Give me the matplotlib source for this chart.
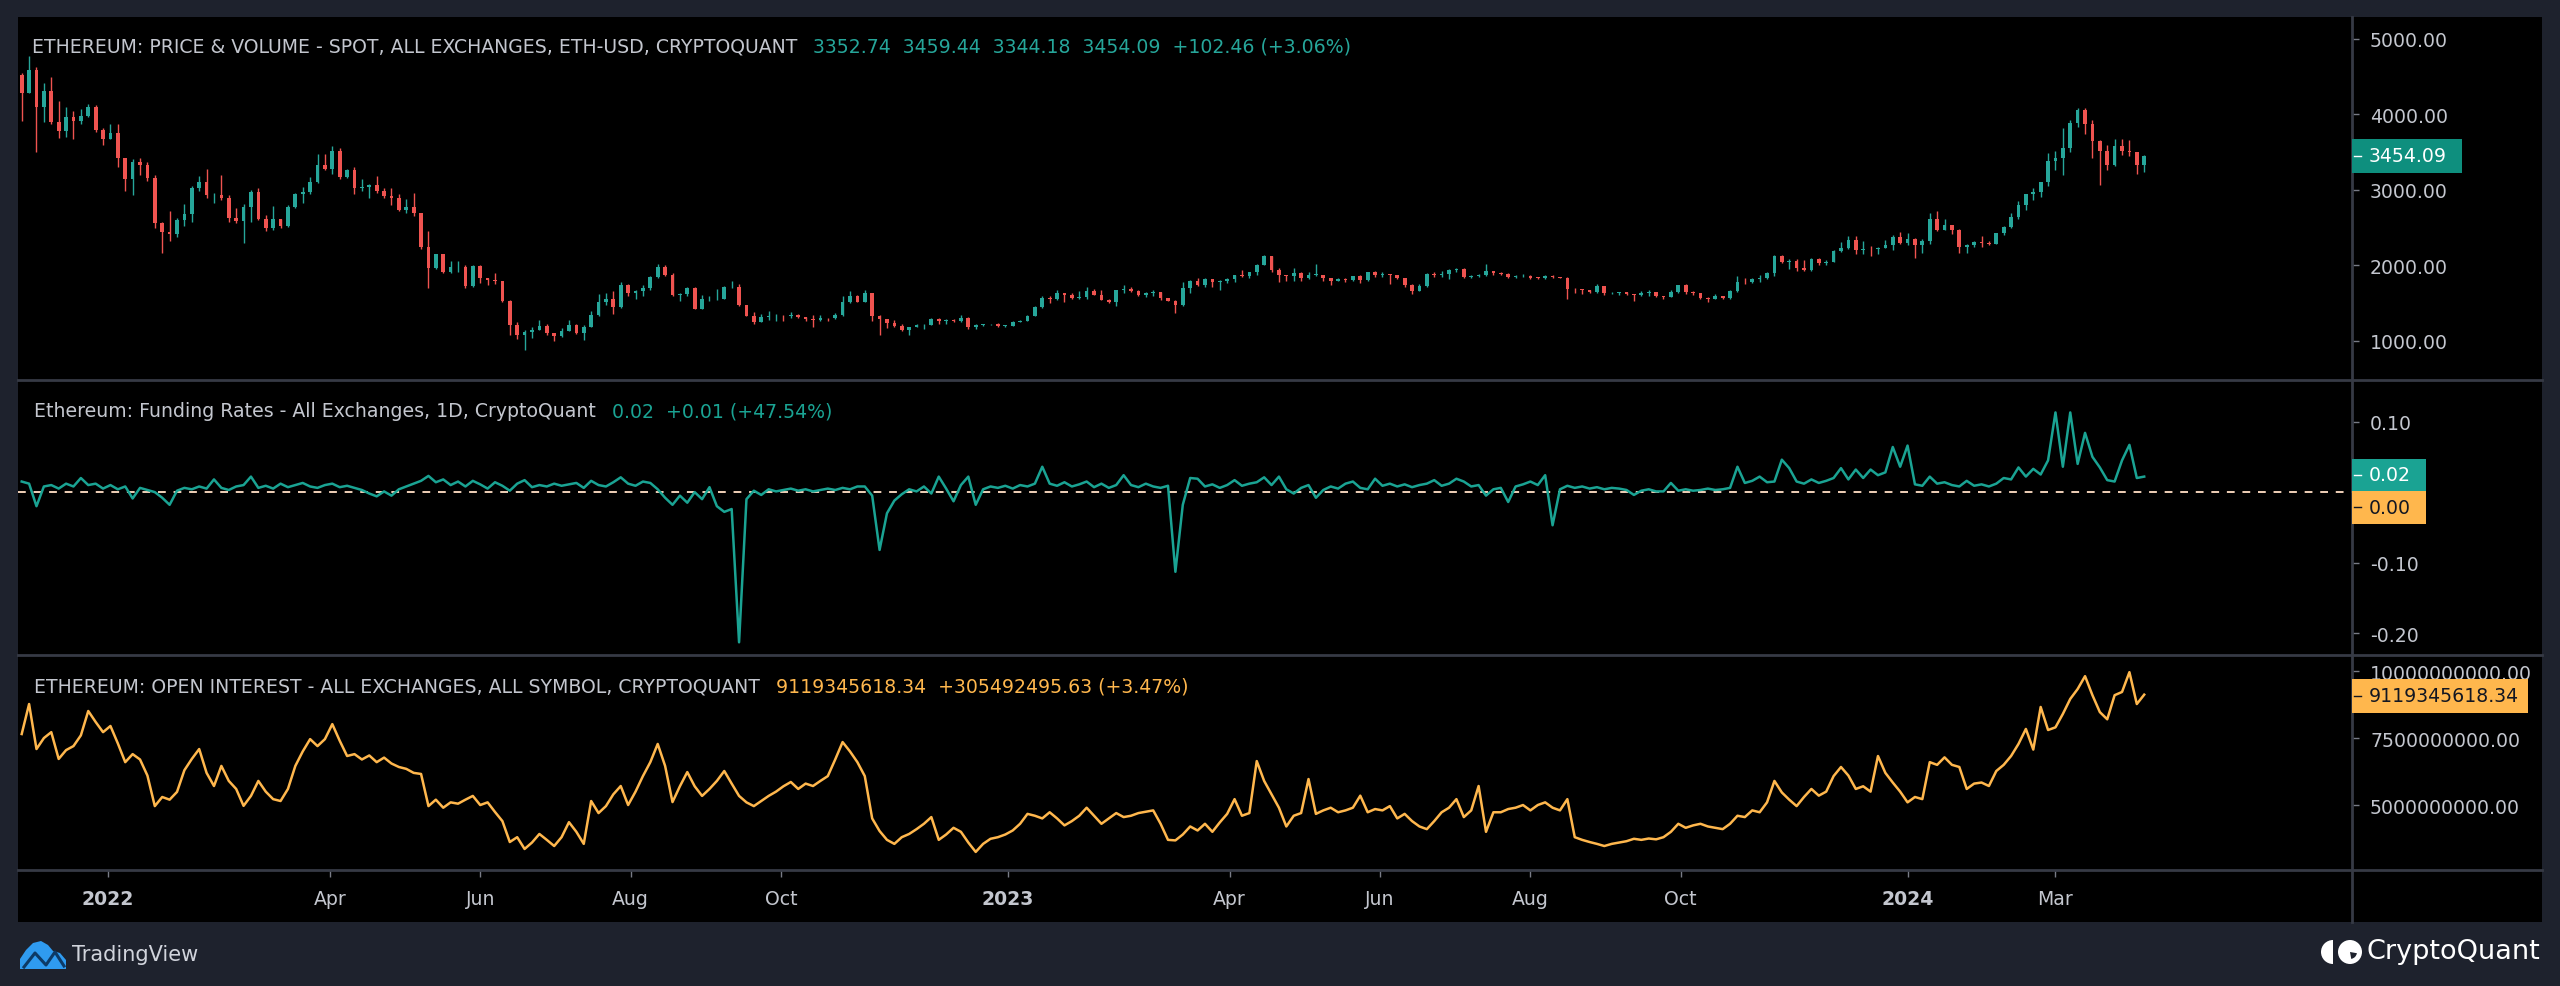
import numpy as np
import pandas as pd
import matplotlib
matplotlib.use("Agg")
import matplotlib.pyplot as plt
import matplotlib.dates as mdates
from matplotlib.patches import Rectangle, Polygon, Wedge, Circle
from matplotlib.lines import Line2D
from matplotlib.ticker import FuncFormatter
from matplotlib.transforms import IdentityTransform

# ---------------- data (3-day periods, first period 2021-11-26..28) ----------------
first_center = "2021-11-27"
n_periods = 288
first_open = 4520

close = [4290, 4590, 4100, 4310, 3900, 3780, 3960, 3920, 3980, 4100,
         3800, 3680, 3760, 3420, 3150, 3370, 3330, 3160, 2560, 2440,
         2420, 2600, 2680, 3020, 3110, 2930, 2930, 2890, 2630, 2590,
         2770, 2970, 2620, 2500, 2610, 2520, 2770, 2950, 2970, 3100,
         3330, 3280, 3520, 3170, 3260, 3030, 3040, 3060, 2990, 2920,
         2890, 2730, 2780, 2700, 2240, 1960, 2150, 1910, 1975, 1980,
         1725, 1995, 1830, 1805, 1790, 1530, 1210, 1085, 1125, 1145,
         1200, 1100, 1065, 1135, 1215, 1100, 1190, 1340, 1520, 1550,
         1450, 1735, 1635, 1660, 1700, 1850, 1985, 1880, 1615, 1625,
         1700, 1425, 1555, 1555, 1560, 1715, 1715, 1475, 1335, 1250,
         1315, 1330, 1330, 1325, 1350, 1315, 1295, 1275, 1310, 1300,
         1345, 1515, 1590, 1520, 1630, 1335, 1285, 1240, 1200, 1140,
         1185, 1210, 1215, 1295, 1260, 1280, 1265, 1310, 1185, 1215,
         1220, 1225, 1200, 1200, 1255, 1265, 1335, 1450, 1575, 1550,
         1630, 1610, 1570, 1585, 1665, 1615, 1545, 1515, 1675, 1690,
         1660, 1610, 1635, 1645, 1565, 1535, 1480, 1705, 1795, 1735,
         1820, 1775, 1795, 1825, 1870, 1865, 1910, 2010, 2120, 1940,
         1870, 1865, 1895, 1830, 1875, 1875, 1840, 1800, 1825, 1810,
         1855, 1805, 1910, 1870, 1890, 1880, 1840, 1740, 1665, 1725,
         1890, 1875, 1890, 1935, 1955, 1850, 1860, 1870, 1925, 1895,
         1890, 1850, 1860, 1865, 1840, 1835, 1855, 1845, 1840, 1690,
         1685, 1680, 1645, 1730, 1630, 1630, 1645, 1620, 1605, 1635,
         1645, 1595, 1585, 1655, 1735, 1645, 1630, 1565, 1550, 1600,
         1565, 1665, 1785, 1780, 1815, 1830, 1900, 2120, 2045, 2060,
         1960, 1935, 2080, 2030, 2050, 2195, 2230, 2340, 2200, 2220,
         2215, 2235, 2265, 2380, 2295, 2355, 2265, 2330, 2615, 2470,
         2530, 2470, 2240, 2265, 2315, 2300, 2290, 2425, 2505, 2640,
         2805, 2945, 2970, 3110, 3385, 3420, 3550, 3885, 4065, 3880,
         3645, 3515, 3335, 3585, 3510, 3505, 3330, 3454]

high = [4550, 4780, 4630, 4420, 4490, 4180, 4100, 4040, 4070, 4140,
        4130, 3820, 3880, 3880, 3420, 3410, 3420, 3370, 3200, 2580,
        2720, 2630, 2820, 3050, 3180, 3280, 2960, 3200, 2930, 2760,
        2820, 3000, 3030, 2670, 2790, 2620, 2800, 2960, 3040, 3170,
        3480, 3480, 3580, 3550, 3280, 3300, 3140, 3080, 3190, 3020,
        3030, 2950, 2880, 2960, 2700, 2450, 2150, 2140, 2060, 2060,
        2010, 2010, 2000, 1840, 1900, 1800, 1540, 1250, 1150, 1180,
        1280, 1230, 1110, 1170, 1280, 1230, 1210, 1400, 1620, 1640,
        1660, 1780, 1760, 1680, 1740, 1860, 2020, 2010, 1900, 1640,
        1720, 1710, 1610, 1600, 1690, 1730, 1790, 1760, 1480, 1390,
        1360, 1400, 1360, 1340, 1390, 1360, 1320, 1340, 1340, 1310,
        1370, 1590, 1660, 1610, 1680, 1640, 1340, 1290, 1280, 1230,
        1190, 1230, 1230, 1310, 1300, 1290, 1290, 1350, 1320, 1225,
        1225, 1230, 1235, 1205, 1270, 1275, 1350, 1460, 1600, 1600,
        1680, 1640, 1630, 1660, 1715, 1690, 1680, 1550, 1680, 1740,
        1720, 1670, 1650, 1670, 1650, 1575, 1545, 1780, 1805, 1830,
        1840, 1820, 1810, 1840, 1880, 1940, 1920, 2020, 2140, 2120,
        1960, 1880, 1960, 1920, 1920, 2020, 1880, 1840, 1840, 1830,
        1860, 1880, 1920, 1930, 1910, 1890, 1880, 1840, 1760, 1760,
        1900, 1910, 1930, 1950, 1970, 1960, 1880, 1890, 2020, 1930,
        1910, 1900, 1880, 1890, 1870, 1850, 1870, 1870, 1850, 1850,
        1700, 1690, 1680, 1750, 1730, 1650, 1650, 1650, 1625, 1660,
        1680, 1650, 1600, 1670, 1740, 1750, 1660, 1640, 1580, 1620,
        1600, 1670, 1860, 1830, 1830, 1870, 1910, 2140, 2140, 2080,
        2090, 2070, 2100, 2100, 2070, 2210, 2310, 2390, 2390, 2330,
        2260, 2250, 2340, 2400, 2440, 2430, 2370, 2350, 2690, 2720,
        2610, 2540, 2480, 2280, 2330, 2390, 2320, 2430, 2520, 2690,
        2860, 2950, 3030, 3110, 3490, 3520, 3820, 3930, 4090, 4090,
        3930, 3660, 3590, 3680, 3670, 3660, 3500, 3460]

low = [3920, 4280, 3500, 3900, 3880, 3690, 3700, 3680, 3880, 3960,
       3770, 3600, 3670, 3310, 2990, 2930, 3200, 3120, 2500, 2160,
       2330, 2380, 2520, 2580, 2980, 2900, 2830, 2870, 2580, 2560,
       2300, 2570, 2600, 2450, 2470, 2500, 2510, 2760, 2830, 2950,
       3090, 3270, 3210, 3150, 3160, 2950, 2990, 2900, 2960, 2900,
       2800, 2720, 2700, 2660, 2220, 1700, 1950, 1900, 1900, 1920,
       1700, 1720, 1770, 1740, 1760, 1510, 1080, 1030, 880, 1040,
       1180, 1080, 1000, 1050, 1130, 1090, 1010, 1180, 1330, 1480,
       1360, 1440, 1600, 1560, 1600, 1680, 1840, 1860, 1600, 1530,
       1600, 1420, 1420, 1530, 1545, 1560, 1700, 1460, 1330, 1220,
       1250, 1280, 1260, 1270, 1310, 1300, 1270, 1190, 1270, 1270,
       1295, 1335, 1500, 1510, 1510, 1260, 1075, 1170, 1190, 1130,
       1075, 1180, 1160, 1210, 1230, 1220, 1255, 1250, 1160, 1160,
       1200, 1215, 1185, 1190, 1195, 1245, 1260, 1325, 1440, 1500,
       1540, 1520, 1560, 1550, 1560, 1610, 1540, 1500, 1460, 1640,
       1650, 1590, 1580, 1600, 1540, 1530, 1370, 1460, 1640, 1730,
       1720, 1720, 1680, 1770, 1780, 1850, 1840, 1880, 2000, 1920,
       1780, 1790, 1790, 1800, 1820, 1860, 1800, 1740, 1790, 1780,
       1800, 1770, 1800, 1850, 1850, 1760, 1820, 1720, 1625, 1660,
       1715, 1850, 1850, 1820, 1910, 1840, 1840, 1850, 1860, 1880,
       1880, 1840, 1840, 1850, 1820, 1820, 1820, 1840, 1835, 1550,
       1640, 1620, 1640, 1640, 1610, 1620, 1610, 1610, 1530, 1600,
       1600, 1580, 1560, 1580, 1640, 1620, 1610, 1550, 1520, 1550,
       1550, 1560, 1650, 1760, 1770, 1780, 1820, 1860, 2030, 1950,
       1930, 1930, 1930, 2010, 2000, 2040, 2180, 2220, 2150, 2150,
       2120, 2150, 2250, 2210, 2280, 2270, 2100, 2170, 2280, 2460,
       2470, 2420, 2170, 2170, 2250, 2240, 2270, 2280, 2410, 2490,
       2620, 2740, 2870, 2910, 3050, 3270, 3200, 3500, 3830, 3740,
       3420, 3060, 3260, 3320, 3460, 3450, 3210, 3240]

funding = [0.015, 0.012, -0.02, 0.008, 0.01, 0.005, 0.012, 0.008, 0.02, 0.01,
           0.012, 0.005, 0.01, 0.004, 0.008, -0.009, 0.006, 0.003, 0.0, -0.008,
           -0.018, 0.002, 0.006, 0.004, 0.008, 0.005, 0.018, 0.006, 0.003, 0.008,
           0.01, 0.022, 0.006, 0.009, 0.005, 0.012, 0.007, 0.01, 0.013, 0.008,
           0.006, 0.01, 0.012, 0.007, 0.009, 0.006, 0.003, -0.002, -0.006, 0.001,
           -0.005, 0.004, 0.008, 0.012, 0.016, 0.023, 0.014, 0.018, 0.01, 0.015,
           0.008, 0.016, 0.011, 0.005, 0.014, 0.009, 0.002, 0.012, 0.017, 0.007,
           0.01, 0.008, 0.012, 0.009, 0.011, 0.013, 0.006, 0.016, 0.01, 0.008,
           0.014, 0.021, 0.012, 0.009, 0.015, 0.013, 0.004, -0.008, -0.018, -0.005,
           -0.015, 0.0, -0.01, 0.007, -0.02, -0.028, -0.024, -0.213, -0.01, 0.002,
           -0.004, 0.004, 0.001, 0.003, 0.005, 0.002, 0.004, 0.001, 0.003, 0.005,
           0.003, 0.006, 0.004, 0.008, 0.008, -0.005, -0.082, -0.03, -0.012, -0.003,
           0.004, 0.001, 0.008, -0.002, 0.022, 0.005, -0.013, 0.01, 0.022, -0.018,
           0.004, 0.008, 0.006, 0.009, 0.005, 0.01, 0.008, 0.012, 0.036, 0.012,
           0.009, 0.014, 0.008, 0.011, 0.015, 0.007, 0.012, 0.006, 0.01, 0.024,
           0.01, 0.007, 0.012, 0.008, 0.006, 0.009, -0.113, -0.018, 0.02, 0.019,
           0.008, 0.011, 0.006, 0.01, 0.017, 0.009, 0.012, 0.014, 0.021, 0.01,
           0.022, 0.004, -0.002, 0.006, 0.01, -0.008, 0.003, 0.008, 0.005, 0.012,
           0.015, 0.006, 0.004, 0.019, 0.009, 0.012, 0.008, 0.011, 0.007, 0.01,
           0.012, 0.017, 0.009, 0.012, 0.019, 0.015, 0.008, 0.01, -0.005, 0.004,
           0.006, -0.014, 0.008, 0.011, 0.015, 0.01, 0.024, -0.047, 0.004, 0.009,
           0.006, 0.008, 0.005, 0.007, 0.004, 0.006, 0.005, 0.003, -0.004, 0.002,
           0.004, 0.001, 0.001, 0.013, 0.002, 0.004, 0.002, 0.003, 0.005, 0.003,
           0.004, 0.006, 0.036, 0.013, 0.016, 0.022, 0.014, 0.015, 0.046, 0.034,
           0.015, 0.012, 0.018, 0.013, 0.016, 0.02, 0.034, 0.018, 0.032, 0.02,
           0.032, 0.024, 0.028, 0.064, 0.036, 0.066, 0.011, 0.009, 0.022, 0.012,
           0.014, 0.01, 0.008, 0.016, 0.009, 0.011, 0.008, 0.012, 0.02, 0.018,
           0.035, 0.022, 0.033, 0.025, 0.045, 0.113, 0.036, 0.113, 0.04, 0.084,
           0.05, 0.035, 0.017, 0.015, 0.045, 0.067, 0.02, 0.022]

oi_bn = [7.65, 8.77, 7.09, 7.5, 7.72, 6.72, 7.05, 7.2, 7.6, 8.51,
         8.1, 7.72, 7.95, 7.3, 6.6, 6.9, 6.7, 6.1, 4.96, 5.3,
         5.2, 5.49, 6.3, 6.72, 7.09, 6.2, 5.71, 6.46, 5.9, 5.6,
         4.97, 5.34, 5.9, 5.5, 5.22, 5.15, 5.6, 6.46, 7.0, 7.46,
         7.2, 7.46, 8.02, 7.4, 6.83, 6.9, 6.7, 6.85, 6.6, 6.77,
         6.55, 6.42, 6.35, 6.2, 6.16, 4.96, 5.2, 4.9, 5.1, 5.05,
         5.2, 5.34, 5.0, 5.1, 4.74, 4.4, 3.62, 3.8, 3.36, 3.6,
         3.92, 3.7, 3.47, 3.8, 4.36, 4.0, 3.55, 5.15, 4.7, 4.96,
         5.4, 5.71, 5.0, 5.5, 6.08, 6.6, 7.28, 6.46, 5.11, 5.7,
         6.23, 5.7, 5.34, 5.6, 5.9, 6.27, 5.8, 5.34, 5.1, 4.96,
         5.15, 5.34, 5.5, 5.7, 5.86, 5.6, 5.8, 5.71, 5.9, 6.08,
         6.7, 7.35, 7.0, 6.6, 6.08, 4.5, 4.03, 3.7, 3.55, 3.8,
         3.92, 4.1, 4.3, 4.55, 3.7, 3.9, 4.15, 4.0, 3.6, 3.25,
         3.55, 3.74, 3.8, 3.9, 4.05, 4.3, 4.67, 4.6, 4.5, 4.73,
         4.5, 4.24, 4.4, 4.6, 4.9, 4.6, 4.3, 4.5, 4.7, 4.55,
         4.6, 4.7, 4.75, 4.8, 4.3, 3.7, 3.68, 3.9, 4.2, 4.05,
         4.3, 4.0, 4.35, 4.67, 5.22, 4.6, 4.7, 6.64, 5.9, 5.4,
         4.9, 4.2, 4.6, 4.7, 5.97, 4.67, 4.8, 4.9, 4.73, 4.8,
         4.9, 5.35, 4.73, 4.85, 4.8, 4.96, 4.5, 4.67, 4.4, 4.2,
         4.1, 4.4, 4.73, 4.9, 5.22, 4.55, 4.8, 5.71, 4.0, 4.73,
         4.73, 4.85, 4.9, 5.0, 4.8, 5.0, 5.1, 4.9, 4.8, 5.22,
         3.8, 3.7, 3.62, 3.55, 3.47, 3.55, 3.6, 3.65, 3.74, 3.7,
         3.75, 3.72, 3.8, 4.0, 4.3, 4.15, 4.24, 4.3, 4.2, 4.15,
         4.1, 4.3, 4.6, 4.55, 4.8, 4.73, 5.1, 5.9, 5.47, 5.2,
         4.96, 5.3, 5.6, 5.35, 5.5, 6.08, 6.42, 6.1, 5.6, 5.7,
         5.5, 6.83, 6.2, 5.84, 5.5, 5.1, 5.3, 5.22, 6.6, 6.5,
         6.78, 6.5, 6.42, 5.6, 5.8, 5.84, 5.71, 6.27, 6.5, 6.83,
         7.28, 7.84, 7.07, 8.66, 7.8, 7.9, 8.4, 8.96, 9.33, 9.81,
         9.1, 8.47, 8.2, 9.1, 9.22, 9.96, 8.77, 9.12]

price_title = "ETHEREUM: PRICE & VOLUME - SPOT, ALL EXCHANGES, ETH-USD, CRYPTOQUANT"
price_values = "3352.74  3459.44  3344.18  3454.09  +102.46 (+3.06%)"
fund_title = "Ethereum: Funding Rates - All Exchanges, 1D, CryptoQuant"
fund_values = "0.02  +0.01 (+47.54%)"
oi_title = "ETHEREUM: OPEN INTEREST - ALL EXCHANGES, ALL SYMBOL, CRYPTOQUANT"
oi_values = "9119345618.34  +305492495.63 (+3.47%)"
last_price_label = "3454.09"
last_fund_label = "0.02"
last_oi_label = "9119345618.34"

tick_dates = ["2022-01-01", "2022-04-01", "2022-06-01", "2022-08-01", "2022-10-01",
              "2023-01-01", "2023-04-01", "2023-06-01", "2023-08-01", "2023-10-01",
              "2024-01-01", "2024-03-01"]
tick_labels = ["2022", "Apr", "Jun", "Aug", "Oct", "2023", "Apr", "Jun", "Aug", "Oct",
               "2024", "Mar"]

assert len(close) == len(high) == len(low) == len(funding) == len(oi_bn) == n_periods, \
    (len(close), len(high), len(low), len(funding), len(oi_bn))

# ---------------- style ----------------
W, H = 2560, 987
FRAME = "#1e222d"
SEP = "#363a45"
TXT = "#c3c6ce"
UP = "#26a69a"
DOWN = "#ef5350"
TEAL = "#1aa393"
ORANGE = "#ffb74d"
FS = 13.6
plt.rcParams["font.family"] = ["DejaVu Sans"]

dates = pd.date_range(first_center, periods=n_periods, freq="3D")
xd = mdates.date2num(dates)
opens = np.array([first_open] + close[:-1], dtype=float)
close_a = np.array(close, dtype=float)
high_a = np.maximum.reduce([np.array(high, float), opens, close_a])
low_a = np.minimum.reduce([np.array(low, float), opens, close_a])
view = (mdates.date2num(pd.Timestamp("2021-11-25 12:00")),
        mdates.date2num(pd.Timestamp("2024-06-29 07:00")))

fig = plt.figure(figsize=(W / 100, H / 100), dpi=100, facecolor=FRAME)


def fx(px):
    return px / W


def fy(py):
    return 1 - py / H


def pane(y0, y1):
    ax = fig.add_axes([fx(18), fy(y1), fx(2352) - fx(18), (y1 - y0) / H])
    ax.set_facecolor("black")
    for s in ax.spines.values():
        s.set_visible(False)
    ax.set_xlim(*view)
    ax.yaxis.tick_right()
    ax.tick_params(axis="y", colors="#787b86", labelcolor=TXT, labelsize=FS,
                   length=5, width=1, pad=8, direction="out")
    ax.tick_params(axis="x", bottom=False, labelbottom=False)
    return ax


fig.add_artist(Rectangle((fx(18), fy(923)), fx(2542) - fx(18), (923 - 18) / H,
                         transform=fig.transFigure, facecolor="black",
                         edgecolor="none", zorder=-1))

ax_p = pane(18, 381)
ax_f = pane(381, 656)
ax_o = pane(656, 871)

# ---- price candles ----
up = close_a >= opens
colors = np.where(up, UP, DOWN)
ax_p.vlines(xd, low_a, high_a, colors=colors, linewidth=1.0)
body_lo = np.minimum(opens, close_a)
body_h = np.maximum(np.abs(close_a - opens), 6)
ax_p.bar(xd, body_h, bottom=body_lo, width=1.5, color=colors, linewidth=0)
ax_p.set_ylim(483, 5291)
ax_p.set_yticks([1000, 2000, 3000, 4000, 5000])
ax_p.yaxis.set_major_formatter(FuncFormatter(lambda v, p: f"{v:.2f}"))

# ---- funding ----
ax_f.axhline(0, color="#f0d0b8", linewidth=1.4, dashes=(4, 4), zorder=1)
ax_f.plot(xd, funding, color=TEAL, linewidth=1.8, zorder=2)
ax_f.set_ylim(-0.231, 0.159)
ax_f.set_yticks([-0.2, -0.1, 0.1])
ax_f.yaxis.set_major_formatter(FuncFormatter(lambda v, p: f"{v:.2f}"))

# ---- open interest ----
ax_o.plot(xd, oi_bn, color=ORANGE, linewidth=1.8)
ax_o.set_ylim(2.575, 10.6)
ax_o.set_yticks([5.0, 7.5, 10.0])
ax_o.yaxis.set_major_formatter(FuncFormatter(lambda v, p: f"{v * 1e9:.2f}"))

# time axis
ax_o.set_xticks(mdates.date2num(pd.to_datetime(tick_dates)))
ax_o.set_xticklabels(tick_labels)
ax_o.tick_params(axis="x", bottom=True, labelbottom=True, colors="#787b86",
                 labelcolor=TXT, labelsize=FS, length=5, width=1, pad=9)
for lab in ax_o.get_xticklabels():
    if lab.get_text().isdigit():
        lab.set_fontweight("bold")

# ---- separators ----
for yy in (381, 656, 871):
    fig.add_artist(Line2D([fx(18), fx(2542)], [fy(yy), fy(yy)], transform=fig.transFigure,
                          color=SEP, linewidth=2, zorder=5))
fig.add_artist(Line2D([fx(2352), fx(2352)], [fy(18), fy(923)], transform=fig.transFigure,
                      color=SEP, linewidth=2, zorder=5))

fig.canvas.draw()
renderer = fig.canvas.get_renderer()


def header(x, y, title, values, vcolor):
    t = fig.text(fx(x), fy(y), title, color=TXT, fontsize=FS, va="center", ha="left")
    bb = t.get_window_extent(renderer=renderer)
    fig.text((bb.x1 + 16) / W, fy(y), values, color=vcolor, fontsize=FS,
             va="center", ha="left")


header(32, 47, price_title, price_values, UP)
header(34, 412, fund_title, fund_values, TEAL)
header(34, 687, oi_title, oi_values, ORANGE)


def value_box(y_center_disp, height, width, text, face, tcolor):
    # y_center_disp in display pixels (origin bottom)
    fig.add_artist(Rectangle((2352, y_center_disp - height / 2), width, height,
                             transform=IdentityTransform(), facecolor=face,
                             edgecolor="none", zorder=6))
    fig.add_artist(Line2D([2354, 2361], [y_center_disp, y_center_disp],
                          transform=IdentityTransform(), color=tcolor,
                          linewidth=1, zorder=7))
    fig.text(2369 / W, y_center_disp / H, text, color=tcolor, fontsize=FS,
             va="center", ha="left", zorder=7)


yp = ax_p.transData.transform((xd[-1], close[-1]))[1]
value_box(yp, 34, 110, last_price_label, "#0e8f7e", "white")

yf = ax_f.transData.transform((xd[-1], funding[-1]))[1]
value_box(yf + 2, 32, 74, last_fund_label, TEAL, "white")
value_box(yf + 2 - 32.5, 33, 74, "0.00", ORANGE, "#131722")

yo = ax_o.transData.transform((xd[-1], oi_bn[-1]))[1]
value_box(yo - 1, 34, 176, last_oi_label, ORANGE, "#131722")

# ---- footer logos ----
tv_shape = [(20, 970), (20, 960), (26, 951), (33, 944), (41, 942), (48, 946),
            (53, 952), (60, 954), (66, 961), (66, 970)]
fig.add_artist(Polygon([(x, H - y) for x, y in tv_shape], closed=True,
                       transform=IdentityTransform(), facecolor="#2f9bf0",
                       edgecolor="none", zorder=6))
fig.add_artist(Line2D([24, 35, 46, 55, 64], [H - 968, H - 954, H - 966, H - 953, H - 967],
                      transform=IdentityTransform(), color="#0d3a66", linewidth=2.2,
                      zorder=7))
fig.text(fx(72), fy(955), "TradingView", color="#d1d4dc", fontsize=15,
         va="center", ha="left")

fig.add_artist(Wedge((2333, H - 953), 12, 90, 270, transform=IdentityTransform(),
                     facecolor="white", edgecolor="none", zorder=6))
fig.add_artist(Circle((2350, H - 953), 12, transform=IdentityTransform(),
                      facecolor="white", edgecolor="none", zorder=6))
fig.add_artist(Wedge((2350, H - 953), 7, 280, 350, transform=IdentityTransform(),
                     facecolor=FRAME, edgecolor="none", zorder=7))
fig.text(fx(2540), fy(952), "CryptoQuant", color="white", fontsize=19.5,
         va="center", ha="right")

fig.savefig("out.png", dpi=100, facecolor=FRAME)
